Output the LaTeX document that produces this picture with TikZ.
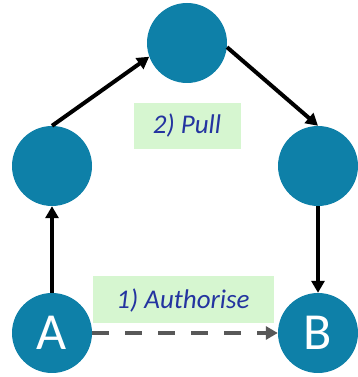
\documentclass[tikz,border=0pt]{standalone}
\usepackage{fontspec}
\setmainfont{Carlito}
\usetikzlibrary{arrows.meta}
\definecolor{hubblue}{RGB}{14,128,168}
\definecolor{tagfill}{RGB}{214,246,208}
\definecolor{tagtext}{RGB}{36,52,160}
\definecolor{dashgray}{RGB}{88,88,88}
\tikzset{
  x=1pt, y=1pt,
  hub_n/.style = {circle, fill=hubblue, draw=none, inner sep=0pt, minimum size=80pt, text=white, font=\fontsize{52}{56}\selectfont},
  tag_b/.style = {fill=tagfill, draw=none, inner sep=0pt, text=tagtext, font=\fontsize{27}{30}\selectfont\itshape},
  flow/.style = {line width=4pt, -{Triangle[length=12pt,width=13pt]}},
  auth/.style = {line width=4.5pt, dashgray, dash pattern=on 17pt off 16pt, -{Triangle[length=12pt,width=13pt]}}
}
\begin{document}
\begin{tikzpicture}
\useasboundingbox (0,0) rectangle (357,377);
% nodes
\node [hub_n] (top) at (187,334) {};
\node [hub_n] (left) at (52,211) {};
\node [hub_n] (right) at (318,211) {};
\node [hub_n] (A) at (52,44) {A};
\node [hub_n] (B) at (318,44) {B};
% labels
\node [tag_b, minimum width=107pt, minimum height=46pt] (pull) at (187,251) {2) Pull};
\node [tag_b, minimum width=181pt, minimum height=47pt] (authorise) at (183,77) {1) Authorise};
% connectors
\draw [flow] (A.north) -- (left.south);
\draw [flow] (left.north) -- (top.200);
\draw [flow] (top.354) -- (right.north);
\draw [flow] (right.south) -- (B.north);
\draw [auth] (A.east) -- (B.west);
\end{tikzpicture}
\end{document}
